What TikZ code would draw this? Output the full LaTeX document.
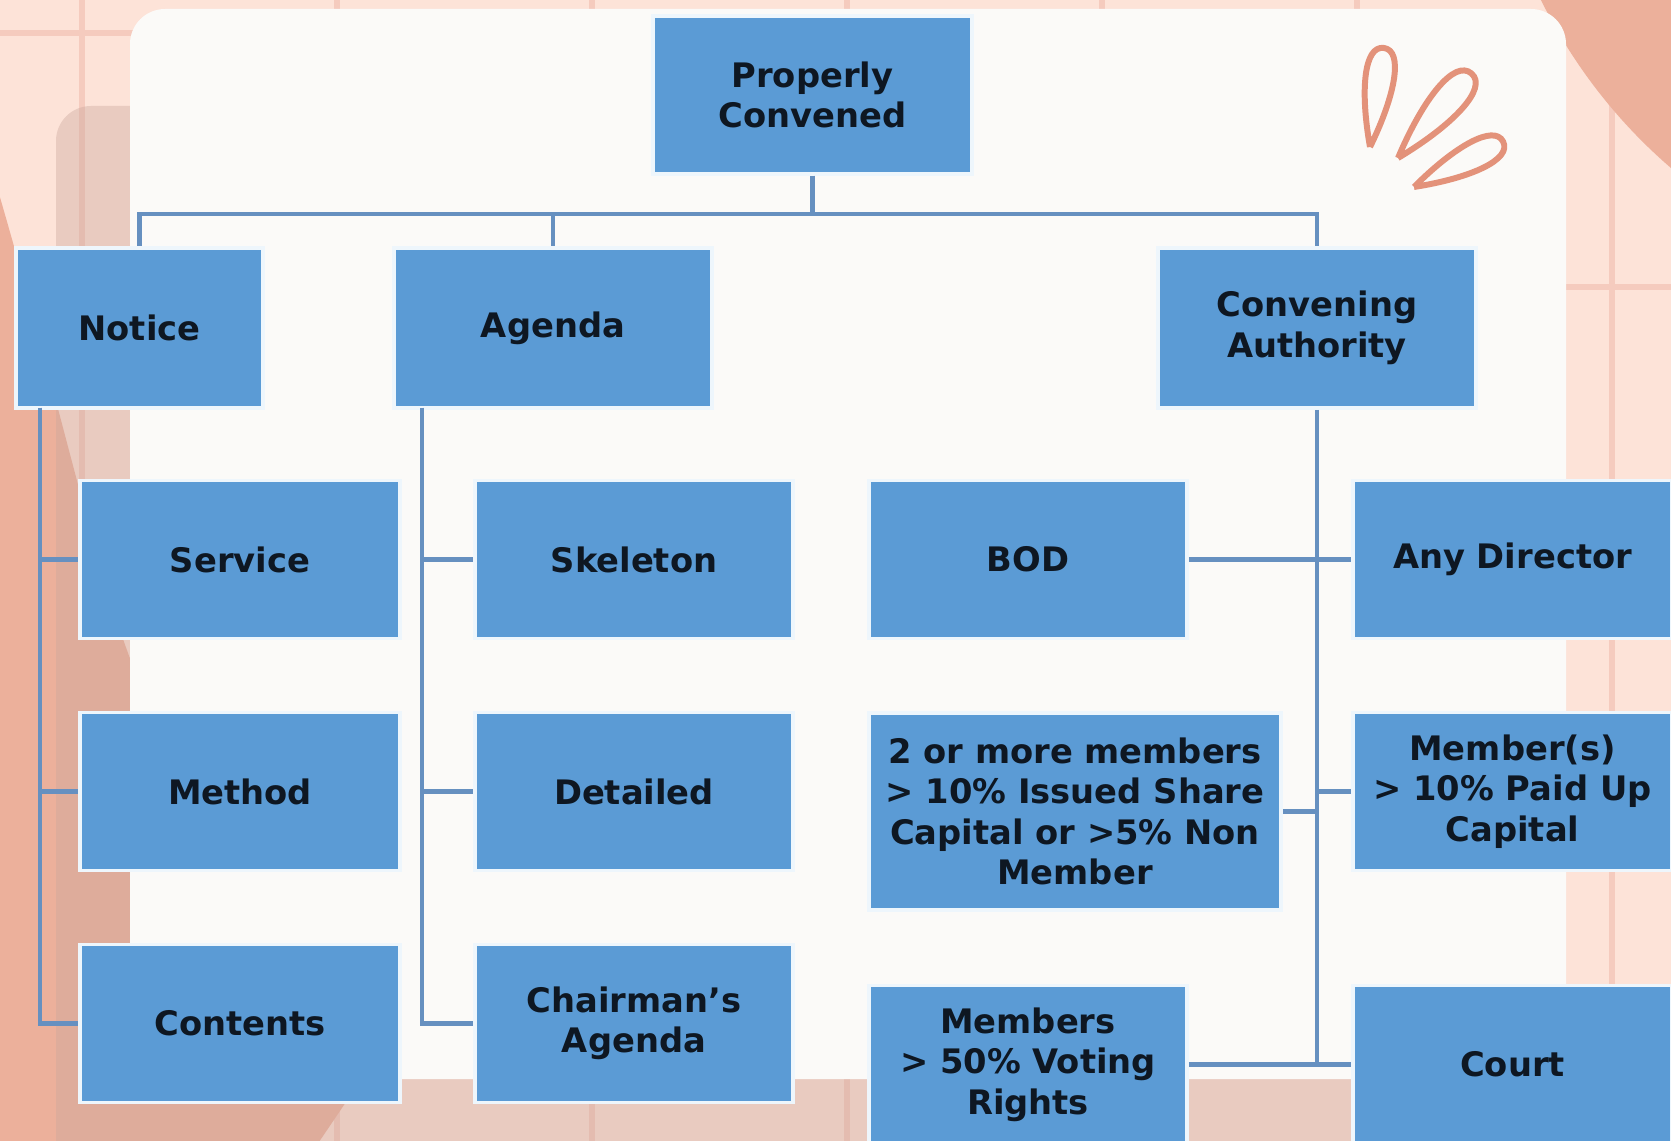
\documentclass[tikz,border=0pt]{standalone}
\usepackage{fontspec}
\setmainfont{DejaVu Sans}
\definecolor{peach}{HTML}{FDE3D8}
\definecolor{peachline}{HTML}{F5CBBE}
\definecolor{salmon}{HTML}{ECB09B}
\definecolor{dusk}{HTML}{CBA79C}
\definecolor{paper}{HTML}{FBFAF8}
\definecolor{petalor}{HTML}{E3927A}
\definecolor{boxblue}{HTML}{5B9BD5}
\definecolor{boxrim}{HTML}{EEF6FC}
\definecolor{linkblue}{HTML}{6690C0}
\definecolor{ink}{HTML}{0E1722}
\tikzset{
  tile/.style={rectangle, fill=boxblue, draw=boxrim, line width=1.1pt, text=ink,
               font=\bfseries\fontsize{9.6}{11.5}\selectfont, align=center, inner sep=2pt,
               minimum width=#1, minimum height=1.58cm},
  tile/.default=3.19cm,
  link/.style={line width=1.2pt, draw=linkblue},
  gridline/.style={line width=1.7pt, draw=peachline},
  petal/.pic={\draw[line width=1.7pt, petalor, line join=round]
                (0,0) .. controls (0.55,0.18) and (1,0.2) .. (1,0)
                      .. controls (1,-0.2) and (0.55,-0.18) .. (0,0);},
}

\begin{document}
\begin{tikzpicture}
  \useasboundingbox (0,0) rectangle (16.71,-11.41);

  % --- sfondo: carta a quadretti, macchie, ombra e foglio
  \fill[peach] (0,0) rectangle (16.71,-11.41);
  \foreach \i in {0,...,6}{ \draw[gridline] ({0.82+2.55*\i},0) -- ++(0,-11.41); }
  \foreach \j in {0,...,4}{ \draw[gridline] (0,{-0.33-2.54*\j}) -- ++(16.71,0); }
  \fill[salmon] (20.16,2.33) circle (5.29);
  \fill[salmon] (-0.2,-1.3) .. controls (0.5,-3.6) and (0.9,-5.5) .. (1.28,-6.53)
                .. controls (2.0,-8.5) and (3.9,-10.3) .. (3.44,-11.05) -- (3.0,-11.7) -- (-0.2,-11.7) -- cycle;
  \fill[dusk, fill opacity=0.4, rounded corners=0.35cm] (0.56,-1.06) rectangle (15.2,-12.5);
  \fill[paper, rounded corners=0.35cm] (1.30,-0.09) rectangle (15.66,-10.79);

  % --- petali in alto a destra
  \pic[rotate=82] at (13.70,-1.47) {petal};
  \pic[rotate=49, scale=1.12] at (13.98,-1.58) {petal};
  \pic[rotate=27] at (14.14,-1.87) {petal};

  % --- radice e primo livello
  \node[tile] (root) at (8.125,-0.95) {Properly\\Convened};
  \node[tile=2.47cm, minimum height=1.6cm] (notice) at (1.395,-3.28) {Notice};
  \node[tile=3.18cm, minimum height=1.6cm] (agenda) at (5.53,-3.28)  {Agenda};
  \node[tile=3.18cm, minimum height=1.6cm] (conv)   at (13.17,-3.28) {Convening\\Authority};
  \foreach \n in {notice,agenda,conv}{ \draw[link] (root.south) -- ++(0,-0.38) -| (\n.north); }

  % --- colonna NOTICE (binario a x=0.40)
  \node[tile=3.20cm] (service)  at (2.40,-5.595)  {Service};
  \node[tile=3.20cm] (method)   at (2.40,-7.915)  {Method};
  \node[tile=3.20cm] (contents) at (2.40,-10.235) {Contents};
  \coordinate (nrail) at (0.40,-4.08);
  \foreach \n in {service,method,contents}{ \draw[link] (nrail) |- (\n.west); }

  % --- colonna AGENDA (binario a x=4.22)
  \node[tile=3.18cm] (skeleton) at (6.34,-5.595)  {Skeleton};
  \node[tile=3.18cm] (detailed) at (6.34,-7.915)  {Detailed};
  \node[tile=3.18cm] (chair)    at (6.34,-10.235) {Chairman’s\\Agenda};
  \coordinate (arail) at (4.22,-4.08);
  \foreach \n in {skeleton,detailed,chair}{ \draw[link] (arail) |- (\n.west); }

  % --- colonna CONVENING AUTHORITY, figli ai due lati del binario
  \node[tile=3.18cm] (bod)     at (10.28,-5.595) {BOD};
  \node[tile=4.12cm, minimum height=1.97cm] (twoplus) at (10.75,-8.115)
       {2 or more members\\> 10\% Issued Share\\Capital or >5\% Non\\Member};
  \node[tile=3.18cm] (fifty)   at (10.28,-10.645) {Members\\> 50\% Voting\\Rights};
  \node[tile] (anydir)  at (15.125,-5.595)  {Any Director};
  \node[tile] (member)  at (15.125,-7.915)  {Member(s)\\> 10\% Paid Up\\Capital};
  \node[tile] (court)   at (15.125,-10.645) {Court};
  \draw[link] (conv.south) -- (conv.south |- court.west);
  \draw[link] (bod.east) -- (anydir.west);
  \draw[link] (conv.south |- member.west) -- (member.west);
  \draw[link] (twoplus.east) -- (twoplus.east -| conv.south);
  \draw[link] (fifty.east) -- (court.west);
\end{tikzpicture}
\end{document}
